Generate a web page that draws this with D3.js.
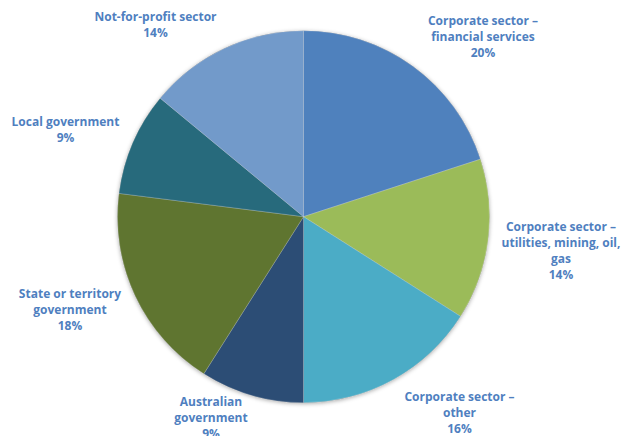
<!DOCTYPE html>
<html>
<head>
<meta charset="utf-8">
<script src="https://cdn.jsdelivr.net/npm/d3@7"></script>
<style>
  html, body { margin: 0; padding: 0; background: #fff; }
  svg { display: block; }
  .lbl { font-family: "Open Sans", Lato, sans-serif; font-weight: 700; font-size: 12px; fill: #4f7fbf; }
</style>
</head>
<body>
<svg id="chart" width="621" height="436"></svg>
<script>
// Employment by sector (share of respondents, %)
const sectors = [
  "Corporate sector – financial services",
  "Corporate sector – utilities, mining, oil, gas",
  "Corporate sector – other",
  "Australian government",
  "State or territory government",
  "Local government",
  "Not-for-profit sector"
];
const shares = [20, 14, 16, 9, 18, 9, 14];
const colours = ["#4f81bd", "#9bbb59", "#4bacc6", "#2c4d75", "#5f7530", "#276a7c", "#729aca"];

// Label lines as wrapped in the chart
const labelLines = [
  ["Corporate sector –", "financial services"],
  ["Corporate sector –", "utilities, mining, oil,", "gas"],
  ["Corporate sector –", "other"],
  ["Australian", "government"],
  ["State or territory", "government"],
  ["Local government"],
  ["Not-for-profit sector"]
];
// Label block placement (centre x, first baseline y)
const labelPos = [
  [483, 25], [561, 230.5], [459.5, 400.5], [211, 405.5], [70, 298], [65.5, 126], [155.5, 21]
];

const svg = d3.select("#chart");
const cx = 303.5, cy = 216.7, r = 186;
const lineH = 16;

const defs = svg.append("defs");
const f = defs.append("filter").attr("id", "shadow")
  .attr("x", "-10%").attr("y", "-10%").attr("width", "120%").attr("height", "120%");
f.append("feDropShadow").attr("dx", 0).attr("dy", 1).attr("stdDeviation", 2)
  .attr("flood-color", "#000").attr("flood-opacity", 0.35);

const data = sectors.map((s, i) => ({ sector: s, value: shares[i], i }));
const pie = d3.pie().value(d => d.value).sort(null);
const arc = d3.arc().innerRadius(0).outerRadius(r);

const g = svg.append("g").attr("transform", `translate(${cx},${cy})`);
g.append("circle").attr("r", r).attr("fill", "#888").attr("filter", "url(#shadow)");

g.selectAll("path.slice")
  .data(pie(data))
  .join("path")
  .attr("class", "slice")
  .attr("d", arc)
  .attr("fill", d => colours[d.data.i])
  .attr("stroke", "rgba(255,255,255,0.35)")
  .attr("stroke-width", 0.6);

const labels = svg.selectAll("text.lbl")
  .data(data)
  .join("text")
  .attr("class", "lbl")
  .attr("text-anchor", "middle")
  .attr("x", d => labelPos[d.i][0])
  .attr("y", d => labelPos[d.i][1]);

labels.each(function(d) {
  const t = d3.select(this);
  const lines = labelLines[d.i].concat([d.value + "%"]);
  lines.forEach((ln, k) => {
    t.append("tspan")
      .attr("x", labelPos[d.i][0])
      .attr("y", labelPos[d.i][1] + k * lineH)
      .text(ln);
  });
});
</script>
</body>
</html>
